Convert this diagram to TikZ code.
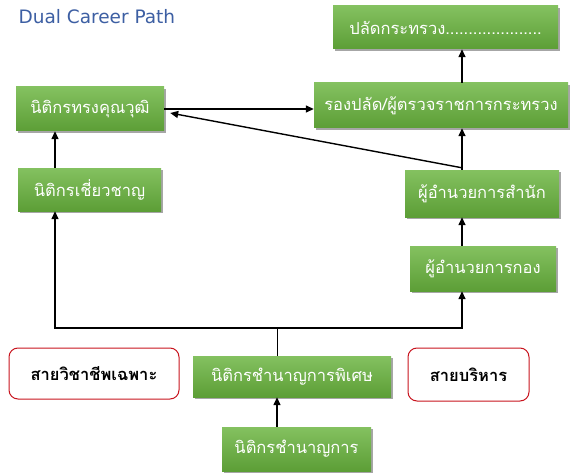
\documentclass[tikz,border=0pt]{standalone}
\usepackage{fontspec}
\newfontfamily\thaifont[Script=Thai]{Loma}
\newfontfamily\titlefont{DejaVu Sans}
\usetikzlibrary{arrows.meta,shadows,calc}
\definecolor{gtop}{HTML}{84C160}
\definecolor{gbot}{HTML}{5C9E36}
\definecolor{redline}{HTML}{C8141E}
\definecolor{titleblue}{HTML}{3D5FA3}
\begin{document}
\begin{tikzpicture}[x=1pt,y=-1pt,
  gbox/.style={rectangle, top color=gtop, bottom color=gbot, draw=none,
    text=white, font=\thaifont\fontsize{16.5}{18}\selectfont, inner sep=0pt,
    drop shadow={shadow xshift=2pt, shadow yshift=-2pt, fill=black, opacity=0.35}},
  rbox/.style={rectangle, rounded corners=9pt, draw=redline, line width=1pt, fill=white,
    text=black, font=\thaifont\bfseries\fontsize{16.5}{18}\selectfont, inner sep=0pt},
  conn/.style={line width=1.4pt, -{Triangle[length=8pt,width=7pt]}},
  plain/.style={line width=1.4pt}]
\useasboundingbox (0,0) rectangle (570,476);
\node[anchor=west, text=titleblue, font=\titlefont\fontsize{18.5}{20}\selectfont] (title) at (15,17) {Dual Career Path};
\node[gbox, minimum width=225pt, minimum height=43pt] (n1) at (445.5,27.5) {ปลัดกระทรวง.....................};
\node[gbox, minimum width=254pt, minimum height=45pt] (n2) at (441,105.5) {รองปลัด/ผู้ตรวจราชการกระทรวง};
\node[gbox, minimum width=154pt, minimum height=47pt] (n3) at (482,193.5) {ผู้อำนวยการสำนัก};
\node[gbox, minimum width=146pt, minimum height=45pt] (n4) at (483,268.5) {ผู้อำนวยการกอง};
\node[gbox, minimum width=148pt, minimum height=44pt] (n5) at (90,109) {นิติกรทรงคุณวุฒิ};
\node[gbox, minimum width=143pt, minimum height=43pt] (n6) at (89.5,189.5) {นิติกรเชี่ยวชาญ};
\node[gbox, minimum width=198pt, minimum height=41pt] (n7) at (292,376.5) {นิติกรชำนาญการพิเศษ};
\node[gbox, minimum width=149pt, minimum height=44pt] (n8) at (296.5,449) {นิติกรชำนาญการ};
\node[rbox, minimum width=170pt, minimum height=51pt] (r1) at (94,373.5) {สายวิชาชีพเฉพาะ};
\node[rbox, minimum width=121pt, minimum height=53pt] (r2) at (468.5,374.5) {สายบริหาร};
\coordinate (j) at (277,328);
\coordinate (jl) at (55,328);
\coordinate (jr) at (462,328);
\draw[conn] (n8.north -| j) -- (n7.south -| j);
\draw[line width=0.8pt] (n7.north -| j) -- (j);
\draw[conn] (j) -- (jl) -- (n6.south -| jl);
\draw[conn] (j) -- (jr) -- (n4.south -| jr);
\draw[conn] (n4.north -| jr) -- (n3.south -| jr);
\draw[conn] (n3.north -| jr) -- (n2.south -| jr);
\draw[conn] ([yshift=2pt]n3.north -| jr) -- ([xshift=6pt,yshift=-4pt]n5.east);
\draw[conn] (n5.east) -- (n2.west |- n5.east);
\draw[conn] (n2.north -| jr) -- (n1.south -| jr);
\draw[conn] (n6.north -| jl) -- (n5.south -| jl);
\end{tikzpicture}
\end{document}
